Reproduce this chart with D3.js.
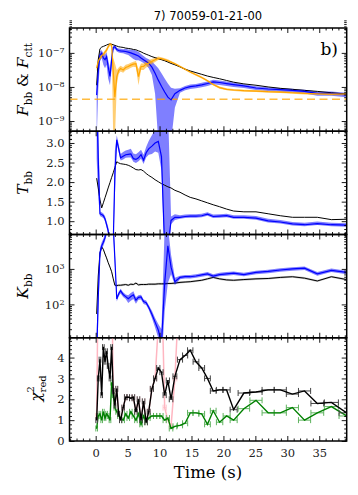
<!DOCTYPE html>
<html>
<head>
<meta charset="utf-8">
<script src="https://cdn.jsdelivr.net/npm/d3@7"></script>
<style>
  body { margin: 0; background: #fff; }
  svg { display: block; }
</style>
</head>
<body>
<div id="chart"></div>
<script>
// time bins (s) and their half widths
const time = [0.15,0.4,0.67,0.94,1.2,1.46,1.7,1.95,2.24,2.5,2.75,3.0,
  3.3,3.6,3.9,4.3,4.7,5.1,5.5,5.9,6.3,6.7,7.1,7.5,7.9,
  8.3,8.8,9.3,9.8,10.3,10.8,11.3,11.8,12.4,
  13.2,14.0,14.8,15.7,16.6,17.5,18.4,19.4,20.5,21.6,
  23.2,25.1,27.0,28.9,30.8,32.7,34.7,36.9,39.3]
const timeErr = [0.13,0.13,0.13,0.13,0.13,0.13,0.13,0.13,0.13,0.13,0.13,0.13,
  0.15,0.15,0.17,0.2,0.2,0.2,0.2,0.2,0.2,0.2,0.2,0.2,0.2,
  0.22,0.25,0.25,0.25,0.25,0.25,0.25,0.28,0.3,
  0.4,0.4,0.42,0.45,0.45,0.45,0.45,0.5,0.55,0.55,
  0.9,0.95,0.95,0.95,0.95,0.95,1.0,1.1,1.2]

// panel 1 : log10 flux
const logFtot = [-7.95,-7.20,-6.88,-6.83,-6.81,-6.79,-6.77,-6.75,-6.74,-6.75,-6.76,-6.78,
  -6.80,-6.82,-6.83,-6.84,-6.86,-6.87,-6.88,-6.90,-6.91,-6.94,-6.97,-7.01,-7.04,
  -7.07,-7.11,-7.14,-7.17,-7.20,-7.23,-7.27,-7.31,-7.35,
  -7.41,-7.48,-7.53,-7.58,-7.63,-7.68,-7.72,-7.76,-7.81,-7.86,
  -7.91,-7.95,-8.00,-8.04,-8.07,-8.10,-8.13,-8.17,-8.21]
const logFbb = [-8.24,-7.55,-7.06,-7.01,-7.15,-7.20,-7.11,-7.40,-7.69,-7.20,-6.84,-6.82,
  -6.90,-6.93,-6.94,-6.95,-6.96,-6.98,-7.00,-7.03,-7.06,-7.09,-7.15,-7.20,-7.25,
  -7.30,-7.42,-7.60,-7.80,-7.98,-8.15,-8.30,-8.38,-8.20,
  -8.10,-8.03,-7.99,-7.97,-7.94,-7.90,-7.85,-7.87,-7.90,-7.93,
  -7.97,-8.03,-8.06,-8.08,-8.10,-8.13,-8.19,-8.19,-8.23]
const logFbbLo = [-9.6,-8.1,-7.25,-7.15,-7.35,-7.45,-7.35,-7.75,-7.95,-7.45,-6.92,-6.88,
  -6.96,-6.99,-7.00,-7.01,-7.04,-7.06,-7.12,-7.18,-7.22,-7.22,-7.25,-7.30,-7.36,
  -7.45,-7.65,-8.2,-9.6,-9.6,-9.6,-9.6,-9.6,-8.6,
  -8.17,-8.10,-8.06,-8.04,-8.01,-7.97,-7.92,-7.94,-7.97,-8.00,
  -8.03,-8.09,-8.12,-8.14,-8.16,-8.19,-8.26,-8.26,-8.30]
const logFbbHi = [-7.9,-7.15,-6.95,-6.92,-7.02,-7.05,-6.98,-7.2,-7.45,-7.0,-6.78,-6.77,
  -6.85,-6.87,-6.88,-6.89,-6.88,-6.90,-6.90,-6.91,-6.93,-6.97,-7.03,-7.09,-7.15,
  -7.19,-7.25,-7.35,-7.45,-7.6,-7.75,-7.9,-8.02,-8.05,
  -8.04,-7.97,-7.93,-7.91,-7.88,-7.84,-7.79,-7.81,-7.84,-7.87,
  -7.92,-7.98,-8.01,-8.03,-8.05,-8.08,-8.13,-8.13,-8.17]
const logFctt = [-7.45,-7.25,-7.15,-7.08,-7.05,-6.98,-6.92,-6.82,-6.74,-6.77,-7.55,-8.30,
  -7.70,-7.52,-7.46,-7.50,-7.43,-7.40,-7.36,-7.33,-7.32,-7.70,-7.40,-7.40,-7.33,
  -7.30,-7.25,-7.20,-7.16,-7.17,-7.20,-7.23,-7.27,-7.32,
  -7.40,-7.48,-7.56,-7.64,-7.72,-7.82,-7.93,-8.02,-8.07,-8.09,
  -8.11,-8.12,-8.14,-8.15,-8.17,-8.19,-8.20,-8.21,-8.21]
const logFcttLo = [-7.55,-7.33,-7.22,-7.15,-7.12,-7.05,-6.99,-6.88,-6.80,-6.83,-9.6,-9.6,
  -7.95,-7.62,-7.55,-7.58,-7.51,-7.48,-7.44,-7.41,-7.42,-7.95,-7.50,-7.50,-7.43,
  -7.40,-7.33,-7.27,-7.21,-7.21,-7.24,-7.27,-7.30,-7.35,
  -7.43,-7.51,-7.59,-7.67,-7.75,-7.85,-7.96,-8.05,-8.10,-8.12,
  -8.14,-8.15,-8.17,-8.18,-8.20,-8.22,-8.23,-8.24,-8.24]
const logFcttHi = [-7.37,-7.18,-7.09,-7.02,-6.99,-6.92,-6.86,-6.77,-6.70,-6.72,-7.15,-7.3,
  -7.50,-7.43,-7.38,-7.42,-7.35,-7.33,-7.29,-7.26,-7.24,-7.47,-7.31,-7.31,-7.24,
  -7.21,-7.18,-7.14,-7.11,-7.13,-7.16,-7.19,-7.24,-7.29,
  -7.37,-7.45,-7.53,-7.61,-7.69,-7.79,-7.90,-7.99,-8.04,-8.06,
  -8.08,-8.09,-8.11,-8.12,-8.14,-8.16,-8.17,-8.18,-8.18]
const logFlimit = -8.36

// panel 2 : temperature (keV)
const Tbb = [4.2,2.6,1.19,1.17,1.14,1.06,0.92,0.76,0.45,0.35,0.45,2.2,
  3.08,2.85,2.62,2.66,2.70,2.71,2.72,2.60,2.58,2.62,2.70,2.56,2.75,
  2.85,2.92,3.00,3.04,2.65,0.3,0.3,1.02,1.10,
  1.10,1.12,1.13,1.13,1.14,1.18,1.12,1.13,1.14,1.10,
  1.10,1.08,1.01,0.98,0.93,0.91,0.94,0.91,0.90]
const TbbLo = [2.6,1.6,1.13,1.11,1.08,0.99,0.84,0.66,0.3,0.2,0.3,1.6,
  3.0,2.77,2.55,2.58,2.62,2.63,2.63,2.52,2.49,2.53,2.60,2.46,2.63,
  2.70,2.72,2.78,2.75,2.30,0.0,0.0,0.92,1.03,
  1.06,1.08,1.09,1.09,1.10,1.14,1.08,1.09,1.10,1.06,
  1.06,1.04,0.97,0.94,0.89,0.87,0.90,0.87,0.86]
const TbbHi = [6.0,3.8,1.25,1.23,1.20,1.13,1.0,0.86,0.6,0.5,0.6,2.8,
  3.2,2.97,2.72,2.77,2.81,2.83,2.85,2.73,2.71,2.76,2.83,2.70,2.90,
  3.05,3.20,3.35,3.45,3.45,4.0,4.0,1.12,1.18,
  1.15,1.17,1.18,1.18,1.19,1.23,1.17,1.18,1.19,1.15,
  1.15,1.13,1.06,1.03,0.98,0.96,0.99,0.96,0.95]
const Tctt = [2.10,1.85,1.55,1.34,1.47,1.60,1.72,1.85,1.99,2.12,2.24,2.37,
  2.52,2.49,2.47,2.46,2.45,2.43,2.40,2.36,2.32,2.31,2.32,2.28,2.22,
  2.17,2.12,2.06,2.01,1.96,1.92,1.88,1.85,1.79,
  1.74,1.67,1.61,1.57,1.52,1.47,1.42,1.37,1.31,1.26,
  1.24,1.24,1.19,1.14,1.10,1.10,1.10,1.04,1.05]

// panel 3 : log10 normalisation
const logKbb = [0.5,2.2,3.45,3.65,3.75,3.88,4.1,4.5,5.0,4.4,4.2,3.3,
  2.15,2.30,2.38,2.28,2.22,2.16,2.22,2.27,2.12,2.20,2.21,2.08,2.05,
  1.92,1.72,1.50,1.28,0.9,2.6,3.65,3.05,2.64,
  2.76,2.78,2.78,2.80,2.83,2.86,2.80,2.84,2.86,2.88,
  2.84,2.90,2.93,2.97,3.00,3.02,2.86,2.96,2.90]
const logKbbLo = [-0.5,1.6,3.3,3.55,3.65,3.78,3.95,4.3,4.7,4.2,4.0,3.1,
  2.08,2.23,2.31,2.21,2.15,2.04,2.10,2.15,2.02,2.13,2.14,2.01,1.98,
  1.85,1.62,1.35,1.05,0.3,1.8,2.6,2.85,2.55,
  2.71,2.73,2.73,2.75,2.78,2.81,2.75,2.79,2.81,2.83,
  2.79,2.85,2.88,2.92,2.95,2.97,2.81,2.91,2.85]
const logKbbHi = [1.2,2.7,3.6,3.75,3.85,3.98,4.25,4.7,5.3,4.6,4.4,3.5,
  2.21,2.36,2.44,2.34,2.28,2.26,2.32,2.37,2.20,2.26,2.27,2.14,2.11,
  1.98,1.82,1.62,1.45,1.3,4.2,4.2,3.4,2.75,
  2.81,2.83,2.83,2.85,2.88,2.91,2.85,2.89,2.91,2.93,
  2.89,2.95,2.98,3.02,3.05,3.07,2.91,3.01,2.95]
const logKctt = [1.73,2.8,3.45,3.62,3.55,3.42,3.31,3.18,3.05,2.92,2.72,2.54,
  2.53,2.54,2.54,2.55,2.56,2.54,2.57,2.56,2.60,2.55,2.56,2.56,2.56,
  2.57,2.57,2.57,2.58,2.58,2.58,2.59,2.59,2.60,
  2.62,2.63,2.64,2.66,2.68,2.72,2.76,2.72,2.69,2.68,
  2.70,2.72,2.73,2.76,2.78,2.74,2.66,2.78,2.70]

// panel 4 : reduced chi square of the three fits
const chiCtt = [1.0,3.0,3.9,2.2,4.5,3.8,4.3,3.6,3.0,4.5,2.4,1.7,
  2.5,1.3,1.0,1.6,2.1,2.1,2.05,2.1,1.4,2.0,1.0,1.9,0.9,
  1.4,2.5,3.0,3.5,3.3,2.2,2.9,2.0,3.1,
  3.9,4.1,4.35,3.8,3.5,3.0,2.4,2.45,2.45,1.5,
  2.3,2.35,2.45,2.45,2.25,2.4,1.8,1.85,1.35]
const chiBbCtt = [0.6,1.2,1.3,1.0,1.4,1.1,1.3,1.2,1.0,2.8,2.2,1.6,
  1.4,1.2,1.1,1.0,1.3,1.1,1.4,1.2,1.0,1.3,0.8,1.2,0.9,
  1.1,1.2,1.2,1.2,1.2,1.0,1.1,0.6,0.7,
  0.75,0.85,1.35,1.35,1.3,0.8,1.45,0.9,1.2,1.0,
  1.55,1.95,1.35,1.35,1.6,1.0,1.35,1.65,1.2]
const chiBb = [1.2,8,8,8,8,8,8,8,8,8,2.4,1.7,
  2.5,1.3,1.0,1.6,2.1,2.1,2.05,2.1,1.4,2.0,1.0,1.9,0.9,
  1.4,2.5,3.0,5.5,8,1.6,1.0,0.7,3.0,
  8,null,null,null,null,null,null,null,null,null,
  null,null,null,null,null,null,null,null,null]

const xTicks = [0, 5, 10, 15, 20, 25, 30, 35]

const W = 358, H = 495
const mLeft = 69.5, mRight = 346.7, mTop = 28, panelH = 103.25
const serif = "DejaVu Serif"

const svg = d3.select("#chart").append("svg")
  .attr("width", W).attr("height", H)

const x = d3.scaleLinear().domain([-4.1, 39.3]).range([mLeft, mRight])

const pow = v => Math.pow(10, v)
const logMinor = (lo, hi) => {
  const out = []
  for (let n = lo; n <= hi; n++) for (let k = 2; k <= 9; k++) out.push(k * pow(n))
  return out
}
const stepMinor = (a, b, s, skip) => d3.range(a, b + 1e-9, s).filter(v => Math.abs(v / skip - Math.round(v / skip)) > 1e-6)

const supFmt = sel => sel.selectAll(".tick text").each(function(d) {
  const t = d3.select(this)
  t.text(null)
  t.append("tspan").text("10")
  t.append("tspan").attr("dy", "-0.5em").attr("font-size", "8px")
    .text(String(Math.round(Math.log10(d))).replace("-", "\u2212"))
})

function panel(i, y, major, minor, isLog) {
  const y0 = mTop + i * panelH, y1 = y0 + panelH
  y.range([y1, y0])
  const g = svg.append("g")
  svg.append("clipPath").attr("id", "clip" + i)
    .append("rect").attr("x", mLeft).attr("y", y0).attr("width", mRight - mLeft).attr("height", panelH)
  const plot = g.append("g").attr("clip-path", `url(#clip${i})`)

  const clean = s => {
    s.select(".domain").remove()
    s.selectAll("line").attr("stroke", "#000").attr("stroke-width", 0.9)
    s.attr("font-family", serif).attr("font-size", 11.5)
    s.selectAll("text").attr("fill", "#222")
  }
  const minorX = d3.range(-4, 40).filter(v => v % 5 !== 0)

  const axes = g.append("g")
  // y ticks, both sides
  const ax = axes.append("g").attr("transform", `translate(${mLeft},0)`)
  ax.append("g").call(d3.axisLeft(y).tickValues(minor).tickSizeInner(-2.5).tickSizeOuter(0).tickFormat("")).call(clean)
  const lab = ax.append("g").call(d3.axisLeft(y).tickValues(major).tickSizeInner(-5).tickSizeOuter(0).tickPadding(5)
    .tickFormat(isLog ? "" : d3.format(i === 3 ? "d" : ".1f"))).call(clean)
  if (isLog) supFmt(lab)
  const ar = axes.append("g").attr("transform", `translate(${mRight},0)`)
  ar.append("g").call(d3.axisRight(y).tickValues(minor).tickSizeInner(-2.5).tickSizeOuter(0).tickFormat("")).call(clean)
  ar.append("g").call(d3.axisRight(y).tickValues(major).tickSizeInner(-5).tickSizeOuter(0).tickFormat("")).call(clean)

  // x ticks, top and bottom
  const ab = axes.append("g").attr("transform", `translate(0,${y1})`)
  ab.append("g").call(d3.axisBottom(x).tickValues(minorX).tickSizeInner(-2.5).tickSizeOuter(0).tickFormat("")).call(clean)
  ab.append("g").call(d3.axisBottom(x).tickValues(xTicks).tickSizeInner(-5).tickSizeOuter(0).tickPadding(8)
    .tickFormat(i === 3 ? d3.format("d") : "")).call(clean)
  const at = axes.append("g").attr("transform", `translate(0,${y0})`)
  at.append("g").call(d3.axisTop(x).tickValues(minorX).tickSizeInner(-2.5).tickSizeOuter(0).tickFormat("")).call(clean)
  at.append("g").call(d3.axisTop(x).tickValues(xTicks).tickSizeInner(-5).tickSizeOuter(0).tickFormat("")).call(clean)

  axes.append("rect").attr("x", mLeft).attr("y", y0).attr("width", mRight - mLeft).attr("height", panelH)
    .attr("fill", "none").attr("stroke", "#000").attr("stroke-width", 1.5)
  return { g, plot, axes, y, y0, y1 }
}

const rows = vals => time.map((t, i) => ({ t, v: vals[i], i }))
const lineOf = (y, f = v => v) => d3.line().defined(d => d.v != null).x(d => x(d.t)).y(d => y(f(d.v)))
const bandOf = (y, lo, hi, f = v => v) => d3.area().x(d => x(d.t)).y0(d => y(f(lo[d.i]))).y1(d => y(f(hi[d.i])))

// ---- panel 1 : fluxes
const p1 = panel(0, d3.scaleLog().domain([pow(-9.3), pow(-6.27)]), [1e-9, 1e-8, 1e-7], logMinor(-10, -7), true)
p1.plot.append("path").datum(rows(logFbb)).attr("d", bandOf(p1.y, logFbbLo, logFbbHi, pow))
  .attr("fill", "#0000ff").attr("opacity", 0.5)
p1.plot.append("path").datum(rows(logFctt)).attr("d", bandOf(p1.y, logFcttLo, logFcttHi, pow))
  .attr("fill", "#ffa500").attr("opacity", 0.55)
p1.plot.append("line").attr("x1", mLeft).attr("x2", mRight)
  .attr("y1", p1.y(pow(logFlimit))).attr("y2", p1.y(pow(logFlimit)))
  .attr("stroke", "#ffa500").attr("stroke-opacity", 0.75).attr("stroke-width", 1.6).attr("stroke-dasharray", "8,4.5")
p1.plot.append("path").datum(rows(logFtot)).attr("d", lineOf(p1.y, pow))
  .attr("fill", "none").attr("stroke", "#000").attr("stroke-width", 1)
p1.plot.append("path").datum(rows(logFbb)).attr("d", lineOf(p1.y, pow))
  .attr("fill", "none").attr("stroke", "#0000ff").attr("stroke-width", 1.2)
p1.plot.append("path").datum(rows(logFctt)).attr("d", lineOf(p1.y, pow))
  .attr("fill", "none").attr("stroke", "#ffa500").attr("stroke-width", 1.2)

// ---- panel 2 : temperatures
const p2 = panel(1, d3.scaleLinear().domain([0.66, 3.30]), [1.0, 1.5, 2.0, 2.5, 3.0], stepMinor(0.7, 3.3, 0.1, 0.5), false)
p2.plot.append("path").datum(rows(Tbb)).attr("d", bandOf(p2.y, TbbLo, TbbHi))
  .attr("fill", "#0000ff").attr("opacity", 0.5)
p2.plot.append("path").datum(rows(Tctt)).attr("d", lineOf(p2.y))
  .attr("fill", "none").attr("stroke", "#000").attr("stroke-width", 1)
p2.plot.append("path").datum(rows(Tbb)).attr("d", lineOf(p2.y))
  .attr("fill", "none").attr("stroke", "#0000ff").attr("stroke-width", 1.2)

// ---- panel 3 : normalisations
const p3 = panel(2, d3.scaleLog().domain([pow(1.06), pow(3.97)]), [1e2, 1e3], logMinor(1, 3).filter(v => v < pow(3.97)), true)
p3.plot.append("path").datum(rows(logKctt)).attr("d", bandOf(p3.y, logKctt.map(v => v - 0.03), logKctt.map(v => v + 0.03), pow))
  .attr("fill", "#000").attr("opacity", 0.22)
p3.plot.append("path").datum(rows(logKctt)).attr("d", lineOf(p3.y, pow))
  .attr("fill", "none").attr("stroke", "#000").attr("stroke-width", 1)
p3.plot.append("path").datum(rows(logKbb)).attr("d", bandOf(p3.y, logKbbLo, logKbbHi, pow))
  .attr("fill", "#0000ff").attr("opacity", 0.5)
p3.plot.append("path").datum(rows(logKbb)).attr("d", lineOf(p3.y, pow))
  .attr("fill", "none").attr("stroke", "#0000ff").attr("stroke-width", 1.2)

// ---- panel 4 : chi square
const p4 = panel(3, d3.scaleLinear().domain([0, 4.95]), [0, 1, 2, 3, 4], stepMinor(0.2, 4.8, 0.2, 1), false)
function chiSeries(vals, color, barColor, width) {
  const pts = rows(vals).filter(d => d.v != null)
  const bars = p4.plot.append("g").attr("stroke", barColor).attr("stroke-width", 1)
  pts.forEach(d => {
    const yy = p4.y(d.v), xa = x(d.t - timeErr[d.i]), xb = x(d.t + timeErr[d.i])
    bars.append("line").attr("x1", xa).attr("x2", xb).attr("y1", yy).attr("y2", yy)
    bars.append("line").attr("x1", xa).attr("x2", xa).attr("y1", yy - 3).attr("y2", yy + 3)
    bars.append("line").attr("x1", xb).attr("x2", xb).attr("y1", yy - 3).attr("y2", yy + 3)
  })
  p4.plot.append("path").datum(rows(vals)).attr("d", lineOf(p4.y))
    .attr("fill", "none").attr("stroke", color).attr("stroke-width", width)
}
chiSeries(chiBb, "#ffb6c1", "#ffc8d0", 1.5)
chiSeries(chiBbCtt, "#008000", "#5fb35f", 1.4)
chiSeries(chiCtt, "#000", "#444", 1.4)

// keep ticks and frames above the data
;[p1, p2, p3, p4].forEach(p => p.axes.raise())

// ---- texts
svg.append("text").attr("x", 208).attr("y", 19.5).attr("text-anchor", "middle")
  .attr("font-family", "DejaVu Sans").attr("font-size", 11.5).text("7) 70059-01-21-00")
svg.append("text").attr("x", 338).attr("y", 55).attr("text-anchor", "end")
  .attr("font-family", serif).attr("font-size", 17).text("b)")
svg.append("text").attr("x", 208).attr("y", 478).attr("text-anchor", "middle")
  .attr("font-family", serif).attr("font-size", 16.5).text("Time (s)")

function yLabel(cx, cy, parts) {
  const t = svg.append("text").attr("transform", `translate(${cx},${cy}) rotate(-90)`)
    .attr("text-anchor", "middle").attr("font-family", serif).attr("font-size", 15.5)
  let shift = 0
  parts.forEach(([s, kind]) => {
    const sp = t.append("tspan").text(s)
    if (kind === "i") sp.attr("font-style", "italic")
    const want = kind === "sub" ? 4 : 0
    if (want !== shift) { sp.attr("dy", want - shift); shift = want }
    if (kind === "sub") sp.attr("font-size", 10.5)
  })
}
yLabel(28, mTop + panelH * 0.5, [["F", "i"], ["bb", "sub"], [" & ", ""], ["F", "i"], ["ctt", "sub"]])
yLabel(28, mTop + panelH * 1.5, [["T", "i"], ["bb", "sub"]])
yLabel(28, mTop + panelH * 2.5, [["K", "i"], ["bb", "sub"]])

const chiLab = svg.append("g").attr("transform", `translate(41,${mTop + panelH * 3.5}) rotate(-90)`)
  .attr("font-family", serif)
chiLab.append("text").attr("x", -12).attr("y", 0).attr("font-size", 15.5).attr("font-style", "italic").text("\u03c7")
chiLab.append("text").attr("x", -3).attr("y", -7.5).attr("font-size", 10).text("2")
chiLab.append("text").attr("x", -3).attr("y", 4.5).attr("font-size", 10).text("red")
</script>
</body>
</html>
